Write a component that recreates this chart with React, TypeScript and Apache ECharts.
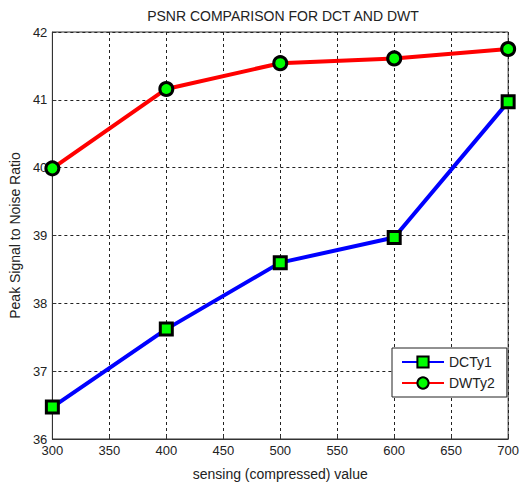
import React, { useEffect, useRef } from "react";
import * as echarts from "echarts";

const xValues = [300, 400, 500, 600, 700];
const dctValues = [36.47, 37.62, 38.6, 38.97, 40.97];
const dwtValues = [39.99, 41.16, 41.54, 41.61, 41.75];
const seriesNames = ["DCTy1", "DWTy2"];

export default function App() {
  const ref = useRef<HTMLDivElement>(null);
  useEffect(() => {
    if (!ref.current) return;
    const chart = echarts.init(ref.current, null, { renderer: "svg" });
    const font = "Liberation Sans, Arial, sans-serif";
    chart.setOption({
      animation: false,
      backgroundColor: "#fff",
      textStyle: { fontFamily: font },
      title: {
        text: "PSNR COMPARISON FOR DCT AND DWT",
        left: 278,
        textAlign: "center",
        top: 4,
        textStyle: { fontSize: 14, fontWeight: "normal", color: "#222", fontFamily: font },
      },
      grid: {
        left: 49,
        right: 13,
        top: 32,
        bottom: 45,
        show: true,
        borderColor: "#333",
        borderWidth: 1,
        backgroundColor: "#fff",
      },
      legend: {
        orient: "vertical",
        left: 392,
        top: 348,
        padding: [7, 12, 7, 9],
        itemGap: 7,
        itemWidth: 42,
        itemHeight: 14,
        backgroundColor: "#fff",
        borderColor: "#222",
        borderWidth: 1,
        borderRadius: 0,
        textStyle: { fontSize: 14, color: "#222", fontFamily: font, padding: [0, 0, 0, 0] },
        data: seriesNames,
      },
      xAxis: {
        type: "value",
        min: 300,
        max: 700,
        interval: 50,
        name: "sensing (compressed) value",
        nameLocation: "middle",
        nameGap: 28,
        nameTextStyle: { fontSize: 14, color: "#222" },
        axisLine: { show: true, lineStyle: { color: "#333" } },
        axisTick: { show: true, inside: true, length: 4, lineStyle: { color: "#333" } },
        axisLabel: { fontSize: 13, color: "#222", margin: 5 },
        splitLine: { show: true, lineStyle: { color: "#222", type: [3, 3], width: 1 } },
      },
      yAxis: {
        type: "value",
        min: 36,
        max: 42,
        interval: 1,
        name: "Peak Signal to Noise Ratio",
        nameLocation: "middle",
        nameGap: 28,
        nameTextStyle: { fontSize: 14, color: "#222" },
        axisLine: { show: true, lineStyle: { color: "#333" } },
        axisTick: { show: true, inside: true, length: 4, lineStyle: { color: "#333" } },
        axisLabel: { fontSize: 13, color: "#222", margin: 5 },
        splitLine: { show: true, lineStyle: { color: "#222", type: [3, 3], width: 1 } },
      },
      series: [
        {
          name: seriesNames[0],
          type: "line",
          data: xValues.map((x, i) => [x, dctValues[i]]),
          symbol: "rect",
          symbolSize: 12,
          lineStyle: { color: "#0000ff", width: 4 },
          itemStyle: { color: "#00ff00", borderColor: "#000", borderWidth: 3 },
          color: "#0000ff",
          clip: false,
          z: 3,
        },
        {
          name: seriesNames[1],
          type: "line",
          data: xValues.map((x, i) => [x, dwtValues[i]]),
          symbol: "circle",
          symbolSize: 13,
          lineStyle: { color: "#ff0000", width: 4 },
          itemStyle: { color: "#00ff00", borderColor: "#000", borderWidth: 3 },
          color: "#ff0000",
          clip: false,
          z: 3,
        },
      ],
    });
    return () => chart.dispose();
  }, []);
  return (
    <div
      ref={ref}
      style={{ position: "absolute", left: 0, top: 0, width: 522, height: 486 }}
    />
  );
}
